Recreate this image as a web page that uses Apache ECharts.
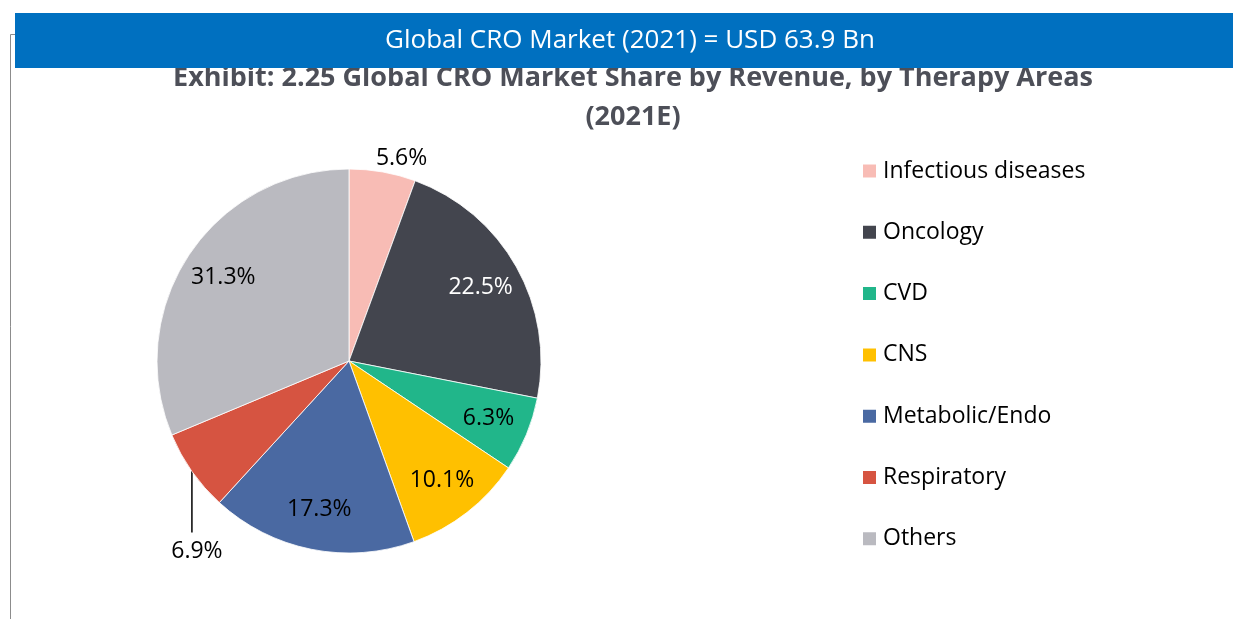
<!DOCTYPE html>
<html>
<head>
<meta charset="utf-8">
<script src="https://cdn.jsdelivr.net/npm/echarts@6/dist/echarts.min.js"></script>
<style>
  html, body { margin: 0; padding: 0; background: #fff; }
  #chart { width: 1234px; height: 619px; }
</style>
</head>
<body>
<div id="chart"></div>
<script>
var categories = ['Infectious diseases', 'Oncology', 'CVD', 'CNS', 'Metabolic/Endo', 'Respiratory', 'Others'];
var shares = [5.6, 22.5, 6.3, 10.1, 17.3, 6.9, 31.3];
var sliceColors = ['#F8BCB5', '#43454E', '#21B68A', '#FFC000', '#4A69A2', '#D65441', '#BABAC0'];
var outsideIdx = [0, 5];  // labels placed outside the pie
var bannerText = 'Global CRO Market (2021) = USD 63.9 Bn';
var chartTitle = 'Exhibit: 2.25 Global CRO Market Share by Revenue, by Therapy Areas\n(2021E)';

var pieData = categories.map(function (name, i) {
    var outside = outsideIdx.indexOf(i) >= 0;
    return {
        name: name,
        value: shares[i],
        itemStyle: { color: sliceColors[i] },
        label: { show: outside },
        labelLine: { show: i === 5 }
    };
});

// transparent ring only used to place the inside labels a bit further out
var labelData = categories.map(function (name, i) {
    return {
        name: name,
        value: shares[i],
        label: {
            show: outsideIdx.indexOf(i) < 0,
            color: i === 1 ? '#fff' : '#000'
        }
    };
});

var myChart = echarts.init(document.getElementById('chart'));
var option = {
    animation: false,
    title: {
        text: chartTitle,
        left: 628,
        textAlign: 'center',
        top: 54,
        textStyle: {
            fontFamily: 'Open Sans',
            fontWeight: 'bold',
            fontSize: 27,
            lineHeight: 39,
            color: '#4D4F58'
        }
    },
    legend: {
        orient: 'vertical',
        left: 856,
        top: 154,
        itemWidth: 15,
        itemHeight: 15,
        itemGap: 37.3,
        icon: 'rect',
        data: categories,
        textStyle: {
            fontFamily: 'Open Sans',
            fontSize: 23,
            lineHeight: 24,
            color: '#000',
            padding: [0, 0, 0, 1]
        }
    },
    graphic: [
        {
            type: 'polyline',
            z: 10,
            shape: { points: [[15, 34.5], [10.5, 34.5], [10.5, 619]] },
            style: { stroke: '#8C8C8C', lineWidth: 1, fill: null }
        },
        {
            type: 'rect',
            z: 20,
            shape: { x: 15, y: 13, width: 1218, height: 55 },
            style: { fill: '#0070C0' }
        },
        {
            type: 'text',
            z: 21,
            x: 630,
            y: 41,
            style: {
                text: bannerText,
                fill: '#fff',
                font: '26px "Open Sans"',
                textAlign: 'center',
                textVerticalAlign: 'middle'
            }
        }
    ],
    series: [
        {
            type: 'pie',
            center: [349, 361],
            radius: 192,
            startAngle: 90,
            clockwise: true,
            avoidLabelOverlap: false,
            itemStyle: { borderColor: '#fff', borderWidth: 0.8 },
            emphasis: { disabled: true },
            label: {
                position: 'outside',
                formatter: '{c}%',
                fontFamily: 'Open Sans',
                fontSize: 23,
                color: '#000'
            },
            labelLine: {
                length: 10,
                length2: 0,
                lineStyle: { color: '#000', width: 1.5 }
            },
            labelLayout: function (p) {
                var pt = p.labelLinePoints && p.labelLinePoints[0];
                if (!pt) return {};
                if (p.dataIndex === 0) {
                    return { x: pt[0] + 19, y: pt[1] - 2, align: 'center', verticalAlign: 'bottom' };
                }
                if (p.dataIndex === 5) {
                    return {
                        x: pt[0] + 5, y: pt[1] + 80, align: 'center', verticalAlign: 'middle',
                        labelLinePoints: [[pt[0], pt[1] - 1], [pt[0], pt[1] + 30], [pt[0], pt[1] + 61]]
                    };
                }
                return {};
            },
            data: pieData
        },
        {
            type: 'pie',
            center: [349, 361],
            radius: [104, 192],
            startAngle: 90,
            clockwise: true,
            silent: true,
            avoidLabelOverlap: false,
            itemStyle: { color: 'rgba(0,0,0,0)', borderWidth: 0 },
            label: {
                position: 'inside',
                formatter: '{c}%',
                fontFamily: 'Open Sans',
                fontSize: 23
            },
            labelLine: { show: false },
            data: labelData
        }
    ]
};
myChart.setOption(option);
</script>
</body>
</html>
